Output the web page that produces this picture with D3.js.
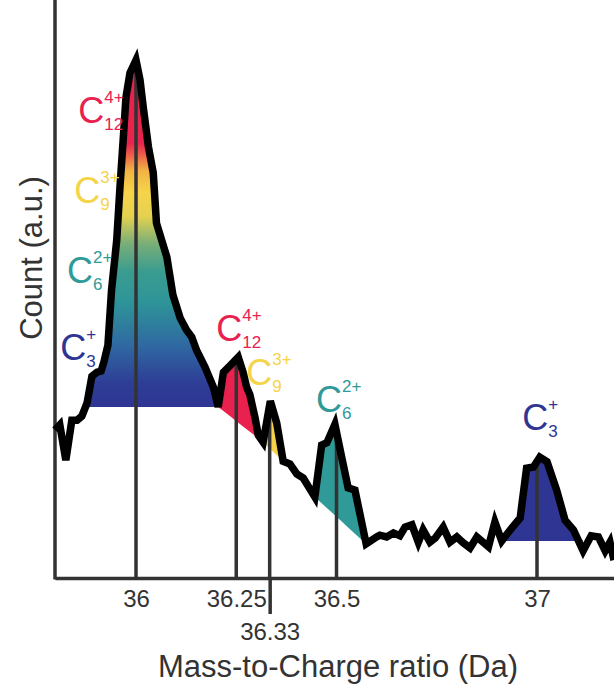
<!DOCTYPE html>
<html>
<head>
<meta charset="utf-8">
<script src="https://cdn.jsdelivr.net/npm/d3@7"></script>
<style>
  body { margin: 0; background: #fff; }
  svg { display: block; font-family: "Liberation Sans", Arial, sans-serif; }
</style>
</head>
<body>
<div id="chart"></div>
<script>
// Spectrum
const mz = [
  35.798, 35.810, 35.825, 35.840, 35.853, 35.865, 35.878, 35.890, 35.903, 35.913,
  35.920, 35.930, 35.939, 35.952, 35.960, 35.968, 35.975, 35.985, 36.000, 36.010,
  36.018, 36.031, 36.043, 36.051, 36.077, 36.092, 36.110, 36.126, 36.139, 36.151,
  36.172, 36.193, 36.205, 36.218, 36.234, 36.255, 36.267, 36.276, 36.284, 36.297,
  36.305, 36.317, 36.335, 36.351, 36.367, 36.384, 36.401, 36.417, 36.446, 36.463,
  36.476, 36.496, 36.513, 36.529, 36.546, 36.574, 36.600, 36.608, 36.625, 36.642,
  36.658, 36.671, 36.688, 36.704, 36.716, 36.733, 36.746, 36.766, 36.783, 36.800,
  36.816, 36.833, 36.850, 36.879, 36.895, 36.912, 36.933, 36.958, 36.974, 36.991,
  37.007, 37.025, 37.049, 37.070, 37.091, 37.115, 37.135, 37.153, 37.170, 37.182,
  37.192
];
const counts = [
  256, 265, 204, 273, 273, 280, 303, 349, 356, 358,
  374, 403, 498, 585, 676, 758, 832, 874, 896, 862,
  815, 746, 701, 614, 555, 490, 450, 429, 417, 394,
  365, 330, 296, 356, 367, 382, 356, 330, 317, 277,
  247, 235, 306, 268, 202, 197, 180, 173, 140, 230,
  234, 266, 209, 156, 152, 59, 71, 74, 71, 78,
  73, 88, 92, 62, 83, 62, 69, 88, 62, 71,
  61, 52, 71, 54, 97, 64, 83, 104, 190, 192,
  209, 201, 152, 100, 83, 47, 73, 71, 47, 62,
  31
];

// Isotope peak positions (Da)
const tickValues = [36, 36.25, 36.5, 37];
const tickLabels = ["36", "36.25", "36.5", "37"];
const lowTickValue = 109 / 3;
const lowTickLabel = "36.33";
const peakLines = [36, 36.25, 109 / 3, 36.5, 37];

// Shaded peaks: start/end m/z and baseline counts at each end
const fillStart = [35.878, 36.205, 36.317, 36.446, 36.912];
const fillEnd = [36.205, 36.317, 36.367, 36.574, 37.115];
const baseStart = [296, 296, 235, 140, 64];
const baseEnd = [296, 235, 202, 59, 64];
const fillColors = ["url(#mainGrad)", "#e8214f", "#f6d24a", "#2f9a97", "#2e3593"];

// Ion labels
const ionSub = ["12", "9", "6", "3", "12", "9", "6", "3"];
const ionSup = ["4+", "3+", "2+", "+", "4+", "3+", "2+", "+"];
const ionColors = ["#e8214f", "#f5d44a", "#2f9a97", "#2e3593", "#e8214f", "#f5d44a", "#2f9a97", "#2e3593"];
// label anchors in data units (m/z, count)
const ionX = [35.856, 35.846, 35.828, 35.811, 36.200, 36.275, 36.449, 36.963];
const ionY = [787, 649, 510, 377, 410, 334, 287, 256];

const width = 614;
const height = 686;
const margin = { top: 0, right: 0, bottom: 108, left: 55 };

const svg = d3
  .select("#chart")
  .append("svg")
  .attr("width", width)
  .attr("height", height);

const x = d3.scaleLinear().domain([35.798, 37.192]).range([margin.left, width - margin.right]);
const y = d3.scaleLinear().domain([0, 1000]).range([height - margin.bottom, margin.top]);

const data = mz.map((m, i) => ({ mz: m, c: counts[i] }));

// interpolate the spectrum at a given m/z
const bisect = d3.bisector((d) => d.mz).left;
const countAt = (m) => {
  const i = Math.max(1, Math.min(data.length - 1, bisect(data, m)));
  const a = data[i - 1], b = data[i];
  const t = (m - a.mz) / (b.mz - a.mz);
  return a.c + t * (b.c - a.c);
};

//Gradient for the big peak
const grad = svg
  .append("defs")
  .append("linearGradient")
  .attr("id", "mainGrad")
  .attr("gradientUnits", "userSpaceOnUse")
  .attr("x1", 0).attr("x2", 0)
  .attr("y1", y(896)).attr("y2", y(296));
[
  [0, "#e81f4f"], [0.24, "#e8244e"], [0.32, "#f2b444"], [0.38, "#f6d44a"],
  [0.45, "#e4d24f"], [0.53, "#78ae78"], [0.61, "#3a9c90"], [0.7, "#2e9498"],
  [0.82, "#2f6aa2"], [0.93, "#2e3e96"], [1, "#2e3593"],
].forEach(([o, c]) => grad.append("stop").attr("offset", o).attr("stop-color", c));

//Peak fills
fillStart.forEach((s, i) => {
  const e = fillEnd[i];
  const base = (m) => baseStart[i] + ((m - s) / (e - s)) * (baseEnd[i] - baseStart[i]);
  const pts = data.filter((d) => d.mz >= s - 1e-9 && d.mz <= e + 1e-9);
  const area = d3
    .area()
    .x((d) => x(d.mz))
    .y0((d) => y(base(d.mz)))
    .y1((d) => y(Math.max(d.c, base(d.mz))));
  svg.append("path").attr("d", area(pts)).attr("fill", fillColors[i]);
});

//Vertical peak lines
svg
  .selectAll(".peak-line")
  .data(peakLines)
  .enter()
  .append("line")
  .attr("class", "peak-line")
  .attr("x1", (d) => x(d))
  .attr("x2", (d) => x(d))
  .attr("y1", y(0))
  .attr("y2", (d) => y(countAt(d)))
  .attr("stroke", "#333")
  .attr("stroke-width", 3.5);

//Axes
const xAxis = d3
  .axisBottom(x)
  .tickValues(tickValues)
  .tickFormat((d, i) => tickLabels[i])
  .tickSize(0)
  .tickPadding(12);
const gx = svg
  .append("g")
  .attr("transform", `translate(0, ${y(0)})`)
  .call(xAxis);
gx.select(".domain").attr("stroke", "#333").attr("stroke-width", 3.5);
gx.selectAll("text").attr("font-size", 24).attr("fill", "#333").attr("font-family", "Liberation Sans, Arial, sans-serif");

const lowAxis = d3
  .axisBottom(x)
  .tickValues([lowTickValue])
  .tickFormat(() => lowTickLabel)
  .tickSize(36)
  .tickPadding(9);
const gLow = svg
  .append("g")
  .attr("transform", `translate(0, ${y(0)})`)
  .call(lowAxis);
gLow.select(".domain").remove();
gLow.selectAll("line").attr("stroke", "#333").attr("stroke-width", 3.5);
gLow.selectAll("text").attr("font-size", 24).attr("fill", "#333").attr("font-family", "Liberation Sans, Arial, sans-serif");

svg
  .append("line")
  .attr("x1", margin.left)
  .attr("x2", margin.left)
  .attr("y1", 0)
  .attr("y2", y(0) + 1.5)
  .attr("stroke", "#333")
  .attr("stroke-width", 3.5);

//Spectrum line
const line = d3.line().x((d) => x(d.mz)).y((d) => y(d.c));
svg
  .append("path")
  .attr("d", line(data))
  .attr("fill", "none")
  .attr("stroke", "#000")
  .attr("stroke-width", 7.5);

//Ion labels
ionSub.forEach((sub, i) => {
  const g = svg
    .append("g")
    .attr("transform", `translate(${x(ionX[i])}, ${y(ionY[i])})`)
    .attr("fill", ionColors[i]);
  g.append("text").attr("font-size", 36).text("C");
  g.append("text").attr("x", 26).attr("y", -20).attr("font-size", 17).text(ionSup[i]);
  g.append("text").attr("x", 26).attr("y", 7).attr("font-size", 17).text(sub);
});

//Labels
svg
  .append("text")
  .attr("x", 338)
  .attr("y", 677)
  .attr("text-anchor", "middle")
  .attr("font-size", 31)
  .attr("fill", "#333")
  .text("Mass-to-Charge ratio (Da)");

svg
  .append("text")
  .attr("transform", "rotate(-90)")
  .attr("x", -258)
  .attr("y", 42)
  .attr("text-anchor", "middle")
  .attr("font-size", 31)
  .attr("fill", "#333")
  .text("Count (a.u.)");
</script>
</body>
</html>
